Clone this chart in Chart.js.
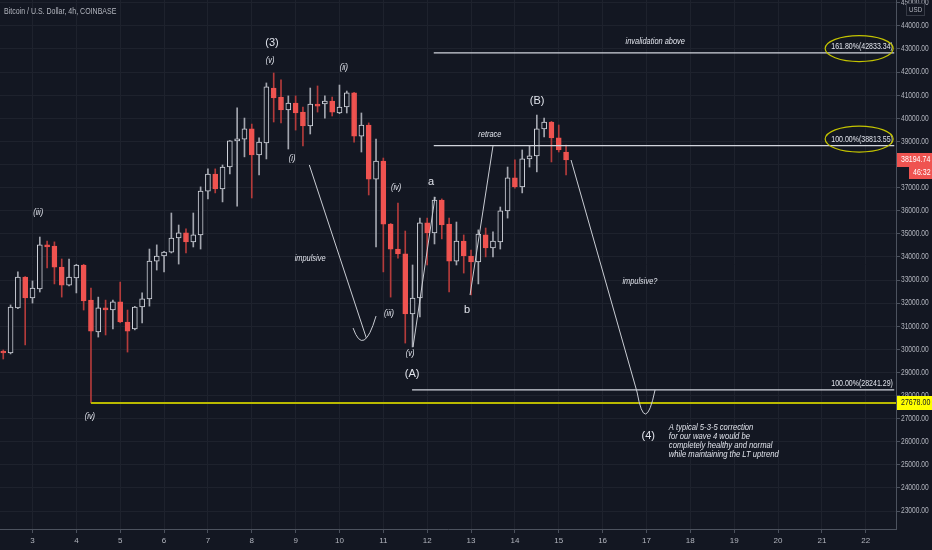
<!DOCTYPE html>
<html>
<head>
<meta charset="utf-8">
<script src="https://cdn.jsdelivr.net/npm/chart.js@4.4.0/dist/chart.umd.min.js"></script>
<style>
  html, body { margin: 0; padding: 0; background: #131722; }
  #wrap { width: 932px; height: 550px; }
</style>
</head>
<body>
<div id="wrap"><canvas id="chart" width="932" height="550"></canvas></div>
<script>
const FONT = "'Liberation Sans', 'DejaVu Sans', sans-serif";
const SX = 0.78; // horizontal squeeze to mimic the condensed TV font
const BG = '#131722';
const UP = '#d1d4dc';
const UP_WICK = '#a3a6af';
const DOWN = '#ef5350';
const DOWN_WICK = '#b43b3b';
const TEXT = '#e0e3eb';
const AXIS_TEXT = '#b2b5be';

// visible window (days of the month) and price range
const X_MIN = 2.259, X_MAX = 22.69;
const Y_MIN = 22221, Y_MAX = 45121;
const xTicks = [3, 4, 5, 6, 7, 8, 9, 10, 11, 12, 13, 14, 15, 16, 17, 18, 19, 20, 21, 22];
const yTicks = [23000, 24000, 25000, 26000, 27000, 28000, 29000, 30000, 31000, 32000, 33000, 34000,
  35000, 36000, 37000, 38000, 39000, 40000, 41000, 42000, 43000, 44000, 45000];

// 4h candles, first visible one is day 2 08:00
const firstCandleDay = 2 + 8 / 24;
const opens = [
  29880, 29840, 31790, 33130, 32220, 32610, 34520, 34470, 33560, 32780,
  33090, 33650, 32130, 30750, 31790, 31700, 32050, 31180, 30880, 31830,
  32180, 33820, 34040, 34210, 34820, 35040, 34650, 34950, 36850, 37590,
  36940, 37890, 39020, 39100, 39540, 38410, 38930, 41310, 40920, 40360,
  40660, 40270, 39670, 40580, 40620, 40750, 40230, 40490, 41100, 39230,
  39710, 37370, 38150, 35420, 34340, 34130, 31530, 32220, 35470, 35040,
  36460, 35420, 33820, 34690, 34040, 33780, 34950, 34390, 34650, 35990,
  37420, 37030, 38240, 38370, 39540, 39840, 39150, 38540
];
const highs = [
  29970, 31920, 33350, 33150, 32960, 34860, 34690, 34650, 33910, 33910,
  33680, 33680, 32650, 32260, 32130, 32130, 32910, 31700, 31860, 32440,
  34340, 34520, 34240, 35900, 35380, 35210, 35900, 37030, 37810, 37810,
  37980, 39040, 40450, 40010, 39750, 39150, 41530, 41960, 41660, 40970,
  40970, 40490, 41310, 41400, 40970, 40920, 41440, 41180, 41120, 40230,
  39800, 39100, 38280, 35450, 36330, 35120, 33650, 35680, 35680, 36590,
  36510, 35680, 35510, 34950, 34300, 35170, 35250, 35080, 36160, 37890,
  38200, 38630, 38800, 40140, 40010, 39870, 39710, 38840
];
const lows = [
  29580, 29800, 31760, 30190, 32000, 32480, 33520, 32830, 32260, 32740,
  32440, 31700, 27678, 30530, 30620, 30880, 31150, 29880, 30840, 31140,
  31870, 33430, 33350, 34170, 33690, 34170, 34430, 34340, 36510, 36770,
  36380, 37590, 36200, 38330, 36550, 37550, 38240, 39840, 39800, 38670,
  39490, 38800, 39320, 40270, 40010, 40100, 40200, 40230, 38970, 38540,
  36680, 34430, 33350, 32260, 33950, 30270, 30100, 31400, 33650, 34560,
  34780, 32480, 33650, 33300, 32350, 32830, 34000, 34000, 34340, 35680,
  36980, 36770, 37890, 37680, 39190, 38110, 38540, 37550
];
const closes = [
  29840, 31830, 33130, 32220, 32650, 34520, 34430, 33560, 32780, 33130,
  33650, 32090, 30790, 31790, 31700, 32050, 31180, 30790, 31830, 32180,
  33820, 34040, 34210, 34820, 35040, 34650, 34950, 36850, 37590, 36940,
  37890, 39020, 39100, 39540, 38410, 38970, 41360, 40880, 40360, 40660,
  40230, 39670, 40620, 40530, 40750, 40270, 40490, 41100, 39230, 39710,
  37370, 38150, 35420, 34340, 34130, 31530, 32220, 35470, 35040, 36460,
  35380, 33820, 34690, 34040, 33780, 34990, 34390, 34690, 35990, 37420,
  37030, 38240, 38370, 39540, 39840, 39150, 38630, 38195
];
const candleDays = opens.map((_, i) => firstCandleDay + i * 4 / 24);

const lastPrice = 38194.74;
const countdown = '46:32';
const lowLevel = 27678;

// fib levels drawn on the chart
const fibLevels = [
  { label: '161.80%(42833.34)', price: 42833.34, from: 12.15 },
  { label: '100.00%(38813.55)', price: 38813.55, from: 12.15 },
  { label: '100.00%(28241.29)', price: 28241.29, from: 11.655 }
];

// text notes: [text, day, price, kind]
const notes = [
  ['(iii)', 3.13, 35940, 'small'],
  ['(iv)', 4.31, 27110, 'small'],
  ['(3)', 8.46, 43260, 'big'],
  ['(v)', 8.42, 42520, 'small'],
  ['(ii)', 10.10, 42220, 'small'],
  ['(i)', 8.92, 38280, 'small'],
  ['impulsive', 9.33, 33950, 'small'],
  ['(iv)', 11.29, 37030, 'small'],
  ['(iii)', 11.13, 31570, 'small'],
  ['(v)', 11.61, 29840, 'small'],
  ['a', 12.09, 37240, 'big'],
  ['b', 12.91, 31700, 'big'],
  ['(A)', 11.655, 28930, 'big'],
  ['(B)', 14.505, 40750, 'big'],
  ['retrace', 13.43, 39320, 'small'],
  ['invalidation above', 17.2, 43350, 'small'],
  ['impulsive?', 16.85, 32960, 'small'],
  ['(4)', 17.04, 26250, 'big']
];
const commentLines = [
  'A typical 5-3-5 correction',
  'for our wave 4 would be',
  'completely healthy and normal',
  'while maintaining the LT uptrend'
];
const commentDay = 17.51;
const commentPrices = [26640, 26250, 25850, 25460];

// drawn wave paths: straight segments and hook curves [day, price]
const segments = [
  [[9.312, 37980], [10.612, 30490]],
  [[11.677, 30100], [12.179, 36590]],
  [[12.977, 32350], [13.50, 38800]],
  [[15.28, 38195], [16.785, 28150]]
];
const hooks = [
  [[10.31, 30920], [10.55, 29620], [10.834, 31440]],
  [[16.785, 28150], [16.97, 26200], [17.196, 28240]]
];
// yellow ellipses around the fib labels [day, price]
const ellipses = [[21.85, 43020], [21.85, 39100]];

const wickData = candleDays.map((d, i) => ({ x: d, y: [lows[i], highs[i]] }));
const bodyData = candleDays.map((d, i) => ({ x: d, y: [opens[i], closes[i]] }));
const isUp = closes.map((c, i) => c >= opens[i]);

function squeeze(ctx, text, x, y, align) {
  ctx.save();
  ctx.translate(x, y);
  ctx.scale(SX, 1);
  ctx.textAlign = align;
  ctx.fillText(text, 0, 0);
  ctx.restore();
}

const overlay = {
  id: 'overlay',
  afterDatasetsDraw(chart) {
    const { ctx, chartArea } = chart;
    const xs = chart.scales.x, ys = chart.scales.y;
    const px = d => xs.getPixelForValue(d);
    const py = p => ys.getPixelForValue(p);
    ctx.save();
    ctx.beginPath();
    ctx.rect(chartArea.left, chartArea.top, chartArea.width, chartArea.height);
    ctx.clip();

    // yellow low line
    ctx.strokeStyle = '#b9b900';
    ctx.lineWidth = 2;
    ctx.beginPath();
    ctx.moveTo(px(4.334), Math.round(py(lowLevel)));
    ctx.lineTo(chartArea.right, Math.round(py(lowLevel)));
    ctx.stroke();

    // fib lines + labels
    ctx.lineWidth = 1.3;
    ctx.strokeStyle = '#d1d4dc';
    ctx.fillStyle = TEXT;
    ctx.font = '9px ' + FONT;
    ctx.textBaseline = 'bottom';
    fibLevels.forEach(f => {
      const yy = py(f.price);
      ctx.beginPath();
      ctx.moveTo(px(f.from), yy);
      ctx.lineTo(px(22.65), yy);
      ctx.stroke();
      squeeze(ctx, f.label, px(22.62), yy - 2, 'right');
    });

    // ellipses
    ctx.lineWidth = 1.2;
    ctx.strokeStyle = '#c4c400';
    ellipses.forEach(e => {
      ctx.beginPath();
      ctx.ellipse(px(e[0]), py(e[1]), 34, 13, 0, 0, Math.PI * 2);
      ctx.stroke();
    });

    // wave paths
    ctx.lineWidth = 1;
    ctx.strokeStyle = '#c9ccd3';
    segments.forEach(s => {
      ctx.beginPath();
      ctx.moveTo(px(s[0][0]), py(s[0][1]));
      ctx.lineTo(px(s[1][0]), py(s[1][1]));
      ctx.stroke();
    });
    hooks.forEach(h => {
      ctx.beginPath();
      ctx.moveTo(px(h[0][0]), py(h[0][1]));
      ctx.quadraticCurveTo(px(h[1][0]), py(h[1][1]), px(h[2][0]), py(h[2][1]));
      ctx.stroke();
    });

    // notes
    ctx.textBaseline = 'middle';
    notes.forEach(n => {
      if (n[3] === 'big') {
        ctx.font = '11px ' + FONT;
        ctx.textAlign = 'center';
        ctx.fillText(n[0], px(n[1]), py(n[2]));
      } else {
        ctx.font = 'italic 9.5px ' + FONT;
        squeeze(ctx, n[0], px(n[1]), py(n[2]), 'center');
      }
    });
    ctx.font = 'italic 9.8px ' + FONT;
    commentLines.forEach((t, i) => squeeze(ctx, t, px(commentDay), py(commentPrices[i]), 'left'));

    // title
    ctx.fillStyle = AXIS_TEXT;
    ctx.font = '9px ' + FONT;
    squeeze(ctx, 'Bitcoin / U.S. Dollar, 4h, COINBASE', 4, 12, 'left');
    ctx.restore();
  },
  afterDraw(chart) {
    const { ctx, chartArea } = chart;
    const ys = chart.scales.y;
    const left = chartArea.right + 1;
    ctx.save();
    ctx.textBaseline = 'middle';

    // price axis labels
    ctx.fillStyle = AXIS_TEXT;
    ctx.font = '8.5px ' + FONT;
    ys.ticks.forEach(t => squeeze(ctx, t.value.toFixed(2), left + 4, ys.getPixelForValue(t.value), 'left'));

    // last price
    ctx.font = '9px ' + FONT;
    let yy = Math.round(ys.getPixelForValue(lastPrice));
    ctx.fillStyle = DOWN;
    ctx.fillRect(left, yy - 7, 36, 14);
    ctx.fillRect(left + 12, yy + 7, 24, 12);
    ctx.fillStyle = '#ffffff';
    squeeze(ctx, lastPrice.toFixed(2), left + 4, yy, 'left');
    squeeze(ctx, countdown, left + 16, yy + 13, 'left');

    // low level
    yy = Math.round(ys.getPixelForValue(lowLevel));
    ctx.fillStyle = '#ffff00';
    ctx.fillRect(left, yy - 7, 36, 14);
    ctx.fillStyle = '#131722';
    squeeze(ctx, lowLevel.toFixed(2), left + 4, yy, 'left');

    // currency badge
    ctx.fillStyle = BG;
    ctx.fillRect(left + 9, 3, 18, 13);
    ctx.strokeStyle = '#363a45';
    ctx.lineWidth = 1;
    ctx.strokeRect(left + 9.5, 3.5, 18, 12);
    ctx.fillStyle = AXIS_TEXT;
    ctx.font = '8px ' + FONT;
    squeeze(ctx, 'USD', left + 12, 10, 'left');
    ctx.restore();
  }
};

new Chart(document.getElementById('chart').getContext('2d'), {
  type: 'bar',
  data: {
    datasets: [
      {
        data: wickData,
        backgroundColor: isUp.map(u => u ? UP_WICK : DOWN_WICK),
        barThickness: 1,
        grouped: false,
        order: 2
      },
      {
        data: bodyData,
        backgroundColor: isUp.map(u => u ? BG : DOWN),
        borderColor: isUp.map(u => u ? UP : DOWN),
        borderWidth: 1,
        borderSkipped: false,
        barThickness: 5,
        minBarLength: 2,
        grouped: false,
        order: 1
      }
    ]
  },
  options: {
    responsive: false,
    animation: false,
    layout: { padding: 0 },
    plugins: { legend: { display: false }, tooltip: { enabled: false } },
    scales: {
      x: {
        type: 'linear',
        min: X_MIN,
        max: X_MAX,
        offset: false,
        afterBuildTicks: s => { s.ticks = xTicks.map(v => ({ value: v })); },
        ticks: {
          autoSkip: false,
          maxRotation: 0,
          color: AXIS_TEXT,
          font: { family: FONT, size: 8 },
          padding: 3,
          callback: v => String(v)
        },
        grid: { color: '#1e222d', tickColor: '#4c525e', tickLength: 4, offset: false },
        border: { color: '#4c525e' },
        afterFit: s => { s.height = 21; }
      },
      y: {
        position: 'right',
        min: Y_MIN,
        max: Y_MAX,
        beginAtZero: false,
        afterBuildTicks: s => { s.ticks = yTicks.map(v => ({ value: v })); },
        ticks: { display: false },
        grid: { color: '#1e222d', tickColor: '#4c525e', tickLength: 4 },
        border: { color: '#4c525e' },
        afterFit: s => { s.width = 36; }
      }
    }
  },
  plugins: [overlay]
});
</script>
</body>
</html>
